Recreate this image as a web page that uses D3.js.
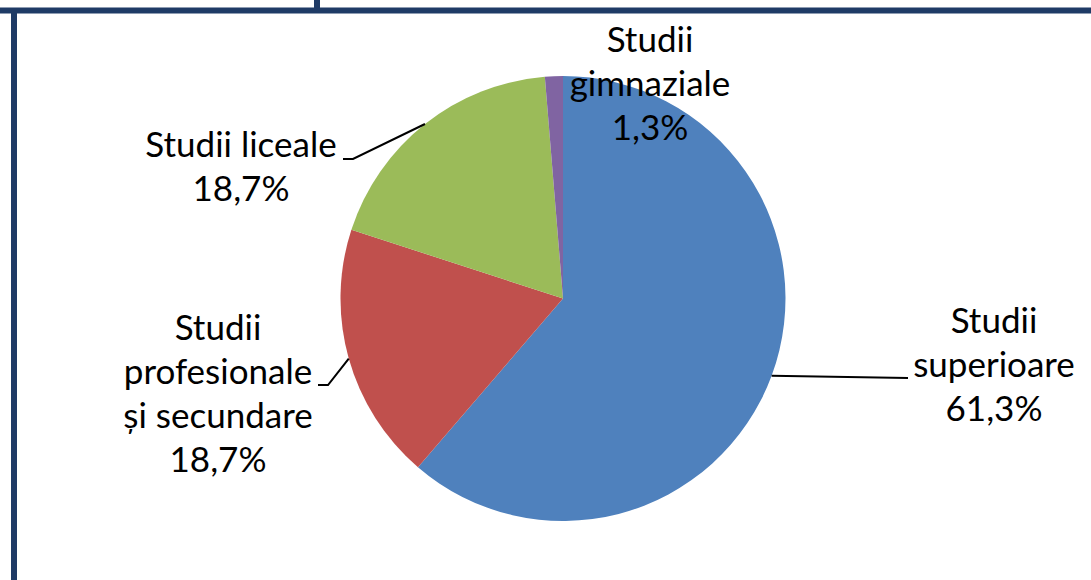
<!DOCTYPE html>
<html>
<head>
<meta charset="utf-8">
<script src="https://cdn.jsdelivr.net/npm/d3@7"></script>
<style>
  html, body { margin: 0; padding: 0; background: #fff; }
  svg { display: block; }
  text { font-family: Lato, "Open Sans", sans-serif; fill: #000; }
</style>
</head>
<body>
<svg id="chart" width="1091" height="580"></svg>
<script>
// date
var categories = ["Studii superioare", "Studii profesionale și secundare", "Studii liceale", "Studii gimnaziale"]
var values = [61.3, 18.7, 18.7, 1.3]
var labelLines = [
	["Studii", "superioare", "61,3%"],
	["Studii", "profesionale", "și secundare", "18,7%"],
	["Studii liceale", "18,7%"],
	["Studii", "gimnaziale", "1,3%"]
]

var colors = ["#4F81BD", "#C0504D", "#9BBB59", "#8064A2"]
// pozitia etichetelor (centru text, linia de baza a primului rand)
var labelPos = [
	{x: 994, y: 333, leader: true, end: [908, 378]},
	{x: 218, y: 340, leader: true, end: [318, 385], knee: [328, 385]},
	{x: 241, y: 157, leader: true, end: [343, 159], knee: [353, 159]},
	{x: 650, y: 52, leader: false}
]

var svg = d3.select("#chart")
var W = 1091, H = 580
var cx = 563, cy = 298.5, r = 222.5
var lineH = 44

// chenar
var frameColor = "#1F3B66"
svg.append("rect").attr("x", 0).attr("y", 7.5).attr("width", W).attr("height", 6).attr("fill", frameColor)
svg.append("rect").attr("x", 314).attr("y", 0).attr("width", 6).attr("height", 8).attr("fill", frameColor)
svg.append("rect").attr("x", 11).attr("y", 13).attr("width", 6).attr("height", H - 13).attr("fill", frameColor)

var pie = d3.pie().sort(null).value(function(d) { return d })
var arcs = pie(values)
var arc = d3.arc().innerRadius(0).outerRadius(r)

var g = svg.append("g").attr("transform", "translate(" + cx + "," + cy + ")")
g.selectAll("path")
	.data(arcs)
	.enter().append("path")
	.attr("d", arc)
	.attr("fill", function(d, i) { return colors[i] })

// linii de legatura
arcs.forEach(function(d, i) {
	var p = labelPos[i]
	if (!p.leader) return
	var a = (d.startAngle + d.endAngle) / 2
	var sx = cx + r * Math.sin(a), sy = cy - r * Math.cos(a)
	var pts = [[sx, sy]]
	if (p.knee) pts.push(p.knee)
	pts.push(p.end)
	svg.append("path")
		.attr("d", d3.line()(pts))
		.attr("fill", "none")
		.attr("stroke", "#000")
		.attr("stroke-width", 2)
})

// etichete
labelLines.forEach(function(lines, i) {
	var p = labelPos[i]
	var t = svg.append("text")
		.attr("text-anchor", "middle")
		.attr("font-size", "35px")
	lines.forEach(function(s, j) {
		t.append("tspan").attr("x", p.x).attr("y", p.y + j * lineH).text(s)
	})
})
</script>
</body>
</html>
